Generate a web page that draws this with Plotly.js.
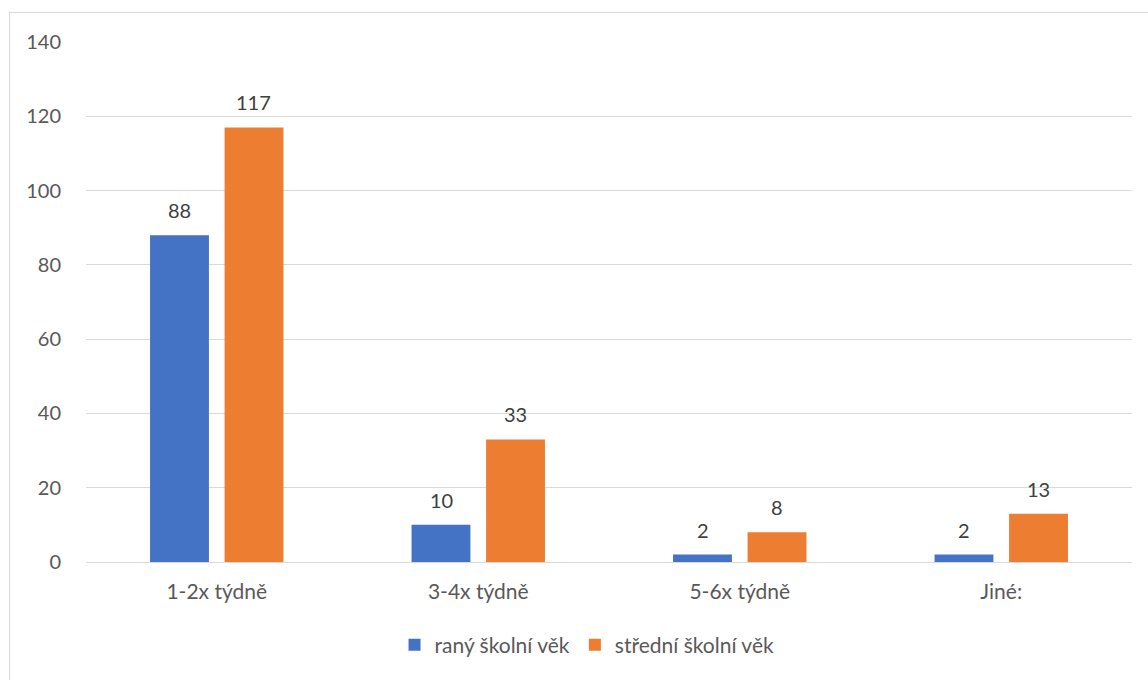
<!DOCTYPE html>
<html>
<head>
<meta charset="utf-8">
<script src="https://cdn.plot.ly/plotly-3.0.1.min.js"></script>
<style>
  html, body { margin: 0; padding: 0; background: #fff; }
  #wrap { position: relative; width: 1148px; height: 680px; overflow: hidden; }
  #chart { position: absolute; left: 0; top: 0; width: 1148px; height: 680px; }
  #frame { position: absolute; left: 9px; top: 12px; width: 1160px; height: 700px; border: 1px solid #d9d9d9; pointer-events: none; }
</style>
</head>
<body>
<div id="wrap">
  <div id="chart"></div>
  <div id="frame"></div>
</div>
<script>
const categories = ["1-2x týdně", "3-4x týdně", "5-6x týdně", "Jiné:"];
const seriesNames = ["raný školní věk", "střední školní věk"];
const ranyValues = [88, 10, 2, 2];
const stredniValues = [117, 33, 8, 13];
const yTicks = [0, 20, 40, 60, 80, 100, 120, 140];

const colors = ["#4472C4", "#ED7D31"];
const fontFam = "Lato, 'Noto Sans', sans-serif";

const traces = [
  { type: "bar", name: seriesNames[0], x: categories, y: ranyValues, marker: { color: colors[0] }, hoverinfo: "none" },
  { type: "bar", name: seriesNames[1], x: categories, y: stredniValues, marker: { color: colors[1] }, hoverinfo: "none" }
];

const annotations = [];
[ranyValues, stredniValues].forEach((vals, si) => {
  vals.forEach((v, i) => {
    annotations.push({
      x: categories[i], y: v, xref: "x", yref: "y",
      text: String(v), showarrow: false,
      xshift: si === 0 ? -37 : 37, yshift: 11, yanchor: "bottom",
      font: { family: fontFam, size: 20, color: "#404040" }
    });
  });
});

const layout = {
  width: 1148, height: 680,
  margin: { l: 86, r: 16, t: 42, b: 118 },
  paper_bgcolor: "rgba(0,0,0,0)", plot_bgcolor: "#fff",
  barmode: "group", bargap: 0.43, bargroupgap: 0.21,
  font: { family: fontFam, size: 20, color: "#595959" },
  xaxis: {
    showgrid: false, showline: true, linecolor: "#d9d9d9", linewidth: 1,
    ticks: "outside", ticklen: 11, tickcolor: "rgba(0,0,0,0)",
    tickfont: { family: fontFam, size: 21, color: "#595959" }
  },
  yaxis: {
    range: [0, 140], tickvals: yTicks, showgrid: true, gridcolor: "#d9d9d9", gridwidth: 1,
    zeroline: false, showline: false,
    ticks: "outside", ticklen: 20, tickcolor: "rgba(0,0,0,0)",
    tickfont: { family: fontFam, size: 20, color: "#595959" }
  },
  legend: {
    orientation: "h", x: 0.479, xanchor: "center", y: -0.16, yanchor: "middle",
    font: { family: fontFam, size: 21, color: "#595959" },
    itemwidth: 30, traceorder: "normal"
  },
  annotations: annotations,
  showlegend: true
};

Plotly.newPlot("chart", traces, layout, { displayModeBar: false, staticPlot: true });
</script>
</body>
</html>
